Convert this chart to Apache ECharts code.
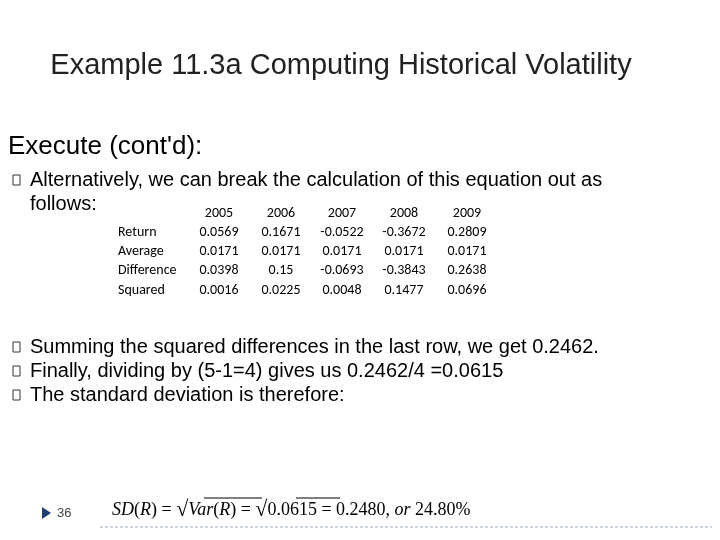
<!DOCTYPE html>
<html>
<head>
<meta charset="utf-8">
<script src="https://cdn.jsdelivr.net/npm/echarts@6/dist/echarts.min.js"></script>
<style>
  html, body { margin: 0; padding: 0; background: #fff; }
  #main { width: 720px; height: 540px; }
</style>
</head>
<body>
<div id="main"></div>
<script>
// table data
var years = ['2005', '2006', '2007', '2008', '2009'];
var rowLabels = ['Return', 'Average', 'Difference', 'Squared'];
var returns = ['0.0569', '0.1671', '-0.0522', '-0.3672', '0.2809'];
var average = ['0.0171', '0.0171', '0.0171', '0.0171', '0.0171'];
var difference = ['0.0398', '0.15', '-0.0693', '-0.3843', '0.2638'];
var squared = ['0.0016', '0.0225', '0.0048', '0.1477', '0.0696'];

var bullets = [
  'Alternatively, we can break the calculation of this equation out as',
  'Summing the squared differences in the last row, we get 0.2462.',
  'Finally, dividing by (5-1=4) gives us 0.2462/4 =0.0615',
  'The standard deviation is therefore:'
];

var txt = function (x, y, s, font, extra) {
  var st = { text: s, x: x, y: y, font: font, fill: '#000', textVerticalAlign: 'middle' };
  for (var k in extra) st[k] = extra[k];
  return { type: 'text', style: st };
};
var bulletMark = function (y) {
  return { type: 'rect', shape: { x: 13, y: y - 5, width: 7, height: 10 },
    style: { fill: 'none', stroke: '#333', lineWidth: 1 } };
};

var g = [];
// title
g.push(txt(341, 66, 'Example 11.3a Computing Historical Volatility', '29px "Liberation Sans"', { textAlign: 'center', fill: '#222' }));
g.push(txt(8, 147, "Execute (cont'd):", '26px "Liberation Sans"'));

// bullets
var bulletFont = '20px "Liberation Sans"';
g.push(bulletMark(180)); g.push(txt(30, 180, bullets[0], bulletFont));
g.push(txt(30, 204, 'follows:', bulletFont));
[347, 371, 395].forEach(function (y, i) {
  g.push(bulletMark(y)); g.push(txt(30, y, bullets[i + 1], bulletFont));
});

// table
var tFont = '14px "Carlito", "Lato", sans-serif';
var colX = [219, 281, 342, 404, 467];
var rowY = [232, 251, 270, 290];
var rows = [returns, average, difference, squared];
years.forEach(function (y, j) {
  g.push(txt(colX[j], 213, y, tFont, { textAlign: 'center' }));
});
rowLabels.forEach(function (l, i) {
  g.push(txt(118, rowY[i], l, tFont));
  rows[i].forEach(function (v, j) {
    g.push(txt(colX[j], rowY[i], v, tFont, { textAlign: 'center' }));
  });
});

// formula
var serif = '"Liberation Serif"';
g.push({
  type: 'text',
  style: {
    x: 112, y: 510, textVerticalAlign: 'middle', fill: '#000',
    rich: {
      i: { fontFamily: serif, fontStyle: 'italic', fontSize: 18 },
      n: { fontFamily: serif, fontSize: 18 },
      r: { fontFamily: serif, fontSize: 22 }
    },
    text: '{i|SD}{n|(}{i|R}{n|) = }{r|√}{i|Var}{n|(}{i|R}{n|) = }{r|√}{n|0.0615 = 0.2480, }{i|or}{n| 24.80%}'
  }
});
g.push({ type: 'line', shape: { x1: 204, y1: 498, x2: 262, y2: 498 }, style: { stroke: '#000', lineWidth: 1 } });
g.push({ type: 'line', shape: { x1: 296, y1: 498, x2: 340, y2: 498 }, style: { stroke: '#000', lineWidth: 1 } });

// footer
g.push({ type: 'line', shape: { x1: 100, y1: 527, x2: 712, y2: 527 }, style: { stroke: '#9ab', lineWidth: 1, lineDash: [3, 2] } });
g.push({ type: 'polygon', shape: { points: [[42, 507], [51, 513], [42, 519]] }, style: { fill: '#1f3f6e' } });
g.push(txt(57, 513, '36', '13px "Liberation Sans"', { fill: '#444' }));

var chart = echarts.init(document.getElementById('main'));
chart.setOption({ animation: false, graphic: g });
</script>
</body>
</html>
